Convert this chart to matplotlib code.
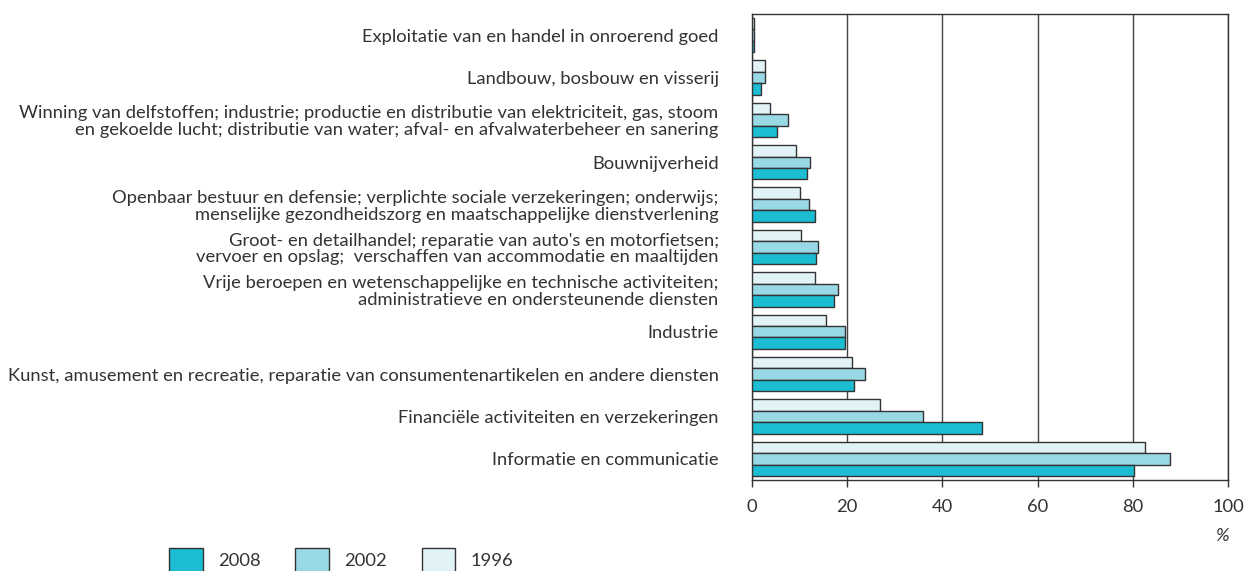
import matplotlib
matplotlib.use('Agg')
import matplotlib.pyplot as plt
import numpy as np

plt.rcParams['font.family'] = ['Lato', 'DejaVu Sans']

categories = [
    'Exploitatie van en handel in onroerend goed',
    'Landbouw, bosbouw en visserij',
    'Winning van delfstoffen; industrie; productie en distributie van elektriciteit, gas, stoom\n'
    'en gekoelde lucht; distributie van water; afval- en afvalwaterbeheer en sanering',
    'Bouwnijverheid',
    'Openbaar bestuur en defensie; verplichte sociale verzekeringen; onderwijs;\n'
    'menselijke gezondheidszorg en maatschappelijke dienstverlening',
    "Groot- en detailhandel; reparatie van auto's en motorfietsen;\n"
    'vervoer en opslag;  verschaffen van accommodatie en maaltijden',
    'Vrije beroepen en wetenschappelijke en technische activiteiten;\n'
    'administratieve en ondersteunende diensten',
    'Industrie',
    'Kunst, amusement en recreatie, reparatie van consumentenartikelen en andere diensten',
    'Financiële activiteiten en verzekeringen',
    'Informatie en communicatie',
]

v1996 = [0.4, 2.7, 3.7, 9.2, 10.0, 10.2, 13.3, 15.5, 21.0, 26.9, 82.6]
v2002 = [0.4, 2.7, 7.6, 12.2, 11.9, 13.8, 18.1, 19.5, 23.7, 36.0, 87.8]
v2008 = [0.5, 1.8, 5.3, 11.6, 13.2, 13.5, 17.2, 19.5, 21.5, 48.4, 80.2]

colors = {'2008': '#1cbdd3', '2002': '#99d9e5', '1996': '#e1f3f6'}
fs = 13.2

fig = plt.figure(figsize=(12.45, 5.71), dpi=100)
ax = fig.add_axes([752 / 1245, 1 - 480 / 571, (1228 - 752) / 1245, (480 - 14) / 571])

y = np.arange(len(categories))
h = 0.27
ax.barh(y - h, v1996, height=h, color=colors['1996'], edgecolor='#333333', linewidth=1, label='1996', zorder=3)
ax.barh(y, v2002, height=h, color=colors['2002'], edgecolor='#333333', linewidth=1, label='2002', zorder=3)
ax.barh(y + h, v2008, height=h, color=colors['2008'], edgecolor='#333333', linewidth=1, label='2008', zorder=3)

ax.set_xlim(0, 100)
ax.set_ylim(len(categories) - 0.5, -0.5)
ax.set_xticks([0, 20, 40, 60, 80, 100])
ax.set_yticks(y)
ax.set_yticklabels(categories, fontsize=fs, color='#333333', linespacing=1.05)
ax.tick_params(axis='y', length=0, pad=24)
ax.tick_params(axis='x', length=5, width=1, color='#333333', labelsize=fs, labelcolor='#333333', pad=9)
ax.grid(axis='x', color='#444444', linewidth=1, zorder=0)
for s in ax.spines.values():
    s.set_color('#333333')
    s.set_linewidth(1)

fig.text(1222 / 1245, 1 - 536 / 571, '%', fontsize=fs, color='#333333', ha='center', va='center', style='italic')

handles, labels = ax.get_legend_handles_labels()
order = [2, 1, 0]
fig.legend([handles[i] for i in order], [labels[i] for i in order],
           loc='upper left', bbox_to_anchor=(162 / 1245, 1 - 541 / 571), ncol=3, frameon=False,
           fontsize=fs, handlelength=1.85, handleheight=1.6, columnspacing=1.9,
           handletextpad=0.8, labelcolor='#333333', borderaxespad=0)

fig.savefig('out.png', dpi=100)
